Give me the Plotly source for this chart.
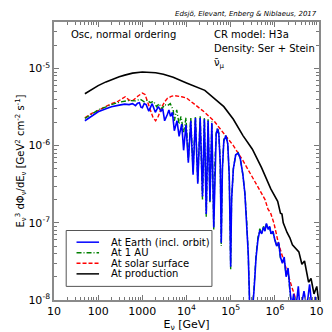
import numpy as np
import plotly.graph_objects as go

# --- data (E in GeV, flux E^3 dPhi/dE in GeV^2 cm^-2 s^-1) ---
prod_e = [50, 70, 100, 150, 200, 300, 400, 600, 1000, 1500, 2000, 3000, 5000, 1e4, 2.6e4,
          7e4, 1.15e5, 1.9e5, 3.1e5, 5e5, 8.1e5, 1.16e6, 1.34e6, 1.45e6, 1.55e6, 1.89e6,
          2.19e6, 2.5e6, 3.1e6, 3.5e6, 4.1e6, 4.7e6, 5.8e6, 6.6e6, 7.7e6, 8.9e6, 1e7]
prod_f = [4.7e-6, 5.3e-6, 6.0e-6, 6.7e-6, 7.2e-6, 7.8e-6, 8.2e-6, 8.7e-6, 9.0e-6, 9.0e-6,
          8.8e-6, 8.4e-6, 7.7e-6, 6.5e-6, 5.2e-6, 3.2e-6, 2.2e-6, 1.35e-6, 9.0e-7, 5.2e-7,
          2.75e-7, 1.9e-7, 1.33e-7, 1.3e-7, 1.0e-7, 7.5e-8, 6.4e-8, 5.2e-8, 4.5e-8, 4.2e-8,
          2.9e-8, 3.2e-8, 1.7e-8, 1.9e-8, 1.2e-8, 1.5e-8, 9e-9]

sun_e = [50, 70, 100, 150, 200, 280, 350, 410, 500, 610, 800, 1000, 1150, 1300, 1500,
         1750, 2000, 2300, 2700, 3200, 3700, 4500, 5300, 6500, 7800, 1e4, 1.6e4, 2.6e4,
         4.3e4, 7e4, 1.15e5, 1.9e5, 3.1e5, 5e5, 6e5, 7e5, 8e5, 9.5e5, 1.2e6, 1.6e6, 2e6,
         2.5e6, 3.2e6]
sun_f = [2.3e-6, 2.6e-6, 2.85e-6, 3.2e-6, 3.5e-6, 3.75e-6, 4.1e-6, 4.3e-6, 3.9e-6,
         3.85e-6, 4.4e-6, 4.8e-6, 4.6e-6, 3.8e-6, 3.0e-6, 2.3e-6, 2.1e-6, 2.4e-6, 3.1e-6,
         3.7e-6, 4.1e-6, 4.35e-6, 4.45e-6, 4.4e-6, 4.3e-6, 4.15e-6, 3.4e-6, 2.7e-6,
         2.05e-6, 1.45e-6, 1.0e-6, 6.4e-7, 3.9e-7, 2.3e-7, 2.0e-7, 1.5e-7, 1.35e-7,
         1.0e-7, 5.5e-8, 3.2e-8, 2.06e-8, 1.4e-8, 9e-9]

au_e = [50, 70, 100, 200, 300, 500, 700, 900, 1100, 1300, 1500, 1800, 2100, 2400, 2800,
        3200, 3700, 4300, 5000, 5300, 6000, 6800, 7500, 8600, 9750, 1.1e4, 1.25e4,
        1.41e4, 1.59e4, 1.8e4, 2.04e4, 2.3e4, 2.54e4, 2.8e4, 3.08e4, 3.4e4, 3.75e4,
        4.14e4, 4.4e4, 4.7e4, 5.04e4, 5.4e4, 5.8e4, 6.12e4, 6.5e4, 7e4, 7.83e4, 8.6e4,
        9.3e4, 1e5, 1.05e5, 1.15e5, 1.3e5, 1.48e5, 1.65e5, 1.89e5, 2.1e5, 2.3e5, 2.5e5,
        2.65e5, 2.75e5, 3.4e5, 3.75e5, 4.14e5, 4.57e5, 5.04e5, 5.56e5, 5.98e5, 6.44e5,
        7.1e5, 7.64e5, 8.22e5, 9.06e5, 1e6, 1.1e6, 1.22e6, 1.34e6, 1.48e6, 1.63e6,
        1.8e6, 1.99e6, 2.19e6, 2.41e6]
au_f = [2.25e-6, 2.55e-6, 2.9e-6, 3.4e-6, 3.65e-6, 3.85e-6, 3.8e-6, 4.0e-6, 3.7e-6,
        3.9e-6, 3.6e-6, 3.75e-6, 3.2e-6, 3.5e-6, 3.0e-6, 3.4e-6, 3.3e-6, 3.5e-6, 2.9e-6,
        2.1e-6, 2.9e-6, 1.9e-6, 2.4e-6, 1.5e-6, 2.3e-6, 6.5e-7, 2.3e-6, 4.6e-7, 2.4e-6,
        3.4e-7, 2.4e-6, 2.0e-7, 2.3e-6, 1.2e-7, 2.2e-6, 1.8e-7, 2.05e-6, 8.0e-8, 6.2e-7,
        1.45e-6, 1.7e-6, 1.45e-6, 6.2e-7, 5.0e-8, 5.2e-7, 1.2e-6, 1.38e-6, 1.05e-6,
        4.0e-7, 2.5e-8, 2.0e-7, 5.0e-7, 7.6e-7, 8.1e-7, 6.8e-7, 4.2e-7, 2.4e-7, 1.1e-7,
        4.0e-8, 1.2e-8, 3e-9, 1.5e-8, 3.8e-8, 6.5e-8, 8.4e-8, 7.4e-8, 9.0e-8, 8.0e-8,
        9.6e-8, 8.4e-8, 8.8e-8, 7.0e-8, 7.6e-8, 6.2e-8, 5.0e-8, 5.4e-8, 3.5e-8, 3.1e-8,
        3.4e-8, 2.1e-8, 2.5e-8, 1.3e-8, 8e-9]

earth_e = [50, 70, 100, 150, 200, 300, 400, 500, 600, 700, 780, 860, 930, 1000, 1100,
           1220, 1400, 1670, 1970, 2300, 2650, 2900, 3200, 3700, 4000, 4350, 4800, 5300,
           6100, 6800, 7800, 8600, 9750, 1.1e4, 1.25e4, 1.41e4, 1.59e4, 1.8e4, 2.04e4,
           2.3e4, 2.54e4, 2.8e4, 3.08e4, 3.4e4, 3.75e4, 4.14e4, 4.4e4, 4.7e4, 5.04e4,
           5.4e4, 5.8e4, 6.12e4, 6.5e4, 7e4, 7.83e4, 8.6e4, 9.3e4, 1e5, 1.05e5, 1.15e5,
           1.3e5, 1.48e5, 1.65e5, 1.89e5, 2.1e5, 2.3e5, 2.5e5, 2.65e5, 2.75e5, 3.4e5,
           3.75e5, 4.14e5, 4.57e5, 5.04e5, 5.56e5, 5.98e5, 6.44e5, 7.1e5, 7.64e5, 8.22e5,
           9.06e5, 1e6, 1.1e6, 1.22e6, 1.34e6, 1.48e6, 1.63e6, 1.8e6, 1.99e6, 2.19e6,
           2.41e6, 2.67e6, 2.94e6, 3.4e6, 3.75e6, 4.57e6, 5.29e6, 6.12e6, 7.1e6, 8.22e6,
           9.5e6]
earth_f = [2.1e-6, 2.4e-6, 2.75e-6, 3.0e-6, 3.2e-6, 3.35e-6, 3.45e-6, 3.4e-6, 3.5e-6,
           3.3e-6, 3.55e-6, 3.6e-6, 3.15e-6, 3.1e-6, 3.5e-6, 3.4e-6, 2.8e-6, 3.5e-6,
           2.7e-6, 3.2e-6, 2.8e-6, 3.0e-6, 2.1e-6, 2.55e-6, 2.9e-6, 2.4e-6, 2.7e-6,
           1.56e-6, 2.1e-6, 1.32e-6, 1.9e-6, 8.7e-7, 1.86e-6, 6.0e-7, 2.1e-6, 4.2e-7,
           2.28e-6, 3.2e-7, 2.28e-6, 2.2e-7, 2.2e-6, 1.3e-7, 2.1e-6, 1.9e-7, 1.97e-6,
           8.7e-8, 6.0e-7, 1.4e-6, 1.66e-6, 1.4e-6, 6.0e-7, 5.5e-8, 5.0e-7, 1.15e-6,
           1.35e-6, 1.05e-6, 4.0e-7, 2.7e-8, 2.0e-7, 5.0e-7, 7.6e-7, 8.0e-7, 6.8e-7,
           4.2e-7, 2.4e-7, 1.1e-7, 4.0e-8, 1.2e-8, 3e-9, 1.4e-8, 3.5e-8, 6.0e-8, 8.0e-8,
           7.2e-8, 8.8e-8, 7.8e-8, 9.8e-8, 8.2e-8, 9.0e-8, 7.2e-8, 7.8e-8, 6.0e-8, 5.0e-8,
           5.6e-8, 3.6e-8, 3.0e-8, 3.6e-8, 2.0e-8, 2.6e-8, 1.4e-8, 8e-9, 1.2e-8, 7e-9,
           1.5e-8, 7e-9, 1.3e-8, 8e-9, 1.6e-8, 7e-9, 1.1e-8, 6e-9]

legend_names = ["At Earth (incl. orbit)", "At 1 AU", "At solar surface", "At production"]
legend_colors = ["#0000ff", "#008000", "#ff0000", "#000000"]
legend_dash = ["solid", "5px,2px,1px,2px", "4px,2px", "solid"]

x_ticks = [10, 100, 1000, 1e4, 1e5, 1e6, 1e7]
x_ticktext = ["10", "100", "1000", "10<sup>4</sup>", "10<sup>5</sup>", "10<sup>6</sup>", "10<sup>7</sup>"]
y_ticks = [1e-8, 1e-7, 1e-6, 1e-5]
y_ticktext = ["10<sup>-8</sup>", "10<sup>-7</sup>", "10<sup>-6</sup>", "10<sup>-5</sup>"]

FONT = "DejaVu Sans"
fig = go.Figure()

# draw order: production, solar surface, 1 AU, Earth on top
series = [(prod_e, prod_f, 3, 1.6), (sun_e, sun_f, 2, 1.4), (au_e, au_f, 1, 1.4), (earth_e, earth_f, 0, 1.6)]
for e, f, i, w in series:
    fig.add_trace(go.Scatter(
        x=e, y=f, mode="lines", name=legend_names[i], showlegend=False,
        line=dict(color=legend_colors[i], width=w, dash=legend_dash[i]),
    ))

# minor tick positions
x_minor = [m * 10 ** k for k in range(1, 7) for m in range(2, 10)]
y_minor = [m * 10.0 ** k for k in range(-8, -4) for m in range(2, 10) if m * 10.0 ** k < 4e-5]

axis_common = dict(
    type="log", showgrid=False, zeroline=False, showline=True, linecolor="#8a8a8a",
    linewidth=1.5, mirror="ticks", ticks="inside", ticklen=5, tickcolor="#777",
    tickfont=dict(family=FONT, size=11, color="black"),
)
fig.update_xaxes(
    **axis_common, range=[1, 7], tickvals=x_ticks, ticktext=x_ticktext,
    minor=dict(tickvals=x_minor, ticks="inside", ticklen=3, tickcolor="#777"),
    title=dict(text="E<sub>ν</sub> [GeV]", font=dict(family=FONT, size=11), standoff=3),
)
fig.update_yaxes(
    **axis_common, range=[-8, np.log10(4e-5)], tickvals=y_ticks, ticktext=y_ticktext,
    minor=dict(tickvals=y_minor, ticks="inside", ticklen=3, tickcolor="#777"),
    title=dict(text="E<sub>ν</sub><sup>3</sup> dΦ<sub>ν</sub>/dE<sub>ν</sub> [GeV<sup>2</sup> cm<sup>-2</sup> s<sup>-1</sup>]",
               font=dict(family=FONT, size=10), standoff=2),
)

# hand-made compact legend
shapes = [dict(type="rect", xref="paper", yref="paper", x0=0.046, x1=0.596, y0=0.049, y1=0.25,
               line=dict(color="#555", width=1), fillcolor="white", layer="above")]
annotations = []
for i, name in enumerate(legend_names):
    yy = 0.208 - i * 0.038
    shapes.append(dict(type="line", xref="paper", yref="paper", x0=0.085, x1=0.170, y0=yy, y1=yy,
                       line=dict(color=legend_colors[i], width=1.5, dash=legend_dash[i]), layer="above"))
    annotations.append(dict(xref="paper", yref="paper", x=0.206, y=yy, text=name, showarrow=False,
                            xanchor="left", yanchor="middle", font=dict(family=FONT, size=10, color="black")))

labels = [
    (0.057, 0.955, "Osc, normal ordering"),
    (0.596, 0.955, "CR model: H3a"),
    (0.596, 0.903, "Density: Ser + Stein"),
    (0.596, 0.852, "ν̄<sub>μ</sub>"),
]
for x, y, t in labels:
    annotations.append(dict(xref="paper", yref="paper", x=x, y=y, text=t, showarrow=False,
                            xanchor="left", yanchor="middle", font=dict(family=FONT, size=10, color="black")))
annotations.append(dict(xref="paper", yref="paper", x=1.0, y=1.028, text="<i>Edsjö, Elevant, Enberg & Niblaeus, 2017</i>",
                        showarrow=False, xanchor="right", yanchor="middle", font=dict(family=FONT, size=7, color="black")))

fig.update_layout(
    width=332, height=332,
    margin=dict(l=39, r=11, t=14, b=30),
    paper_bgcolor="white", plot_bgcolor="white",
    font=dict(family=FONT, color="black"),
    shapes=shapes, annotations=annotations,
    showlegend=False,
)

fig.write_html("out.html")
